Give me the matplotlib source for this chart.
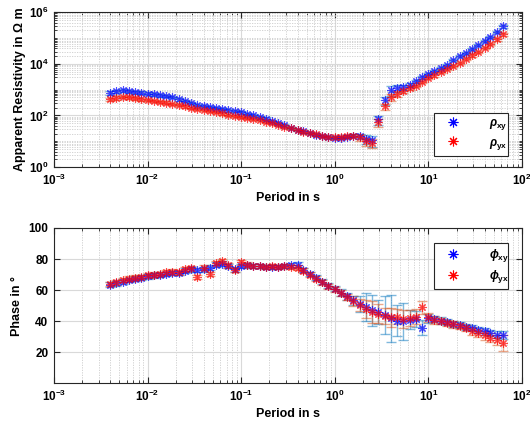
import numpy as np
import matplotlib
matplotlib.use("Agg")
import matplotlib.pyplot as plt
from matplotlib.ticker import LogLocator, FixedLocator, NullFormatter, LogFormatterSciNotation
from matplotlib.lines import Line2D

plt.rcParams['font.family'] = ['Liberation Sans', 'DejaVu Sans']
plt.rcParams['font.weight'] = 'bold'
plt.rcParams['mathtext.fontset'] = 'custom'
plt.rcParams['mathtext.rm'] = 'Liberation Sans:bold'
plt.rcParams['mathtext.bf'] = 'Liberation Sans:bold'
plt.rcParams['mathtext.it'] = 'Liberation Sans:italic'
plt.rcParams['mathtext.default'] = 'bf'

# ---------------- data ----------------
period = [0.0040, 0.0046, 0.0054, 0.0063, 0.0073, 0.0085, 0.0100, 0.0116, 0.0135, 0.0158,
          0.0184, 0.0215, 0.025, 0.029, 0.034, 0.040, 0.046, 0.054, 0.063, 0.073,
          0.085, 0.100, 0.116, 0.135, 0.158, 0.184, 0.215, 0.25, 0.29, 0.34,
          0.40, 0.46, 0.54, 0.63, 0.73, 0.85, 1.00, 1.16, 1.35, 1.58,
          1.84, 2.15, 2.5, 2.9, 3.4, 4.0, 4.6, 5.4, 6.3, 7.3,
          8.5, 10.0, 11.6, 13.5, 15.8, 18.4, 21.5, 25, 29, 34,
          40, 46, 54, 63]

rho_xy = [759, 891, 933, 851, 794, 759, 708, 661, 603, 562,
          525, 417, 355, 302, 263, 240, 214, 191, 174, 158,
          145, 132, 117, 105, 89, 76, 60, 50, 42, 33,
          27.5, 24, 21, 18.2, 15.8, 14.1, 13.2, 13.8, 15.1, 16.6,
          15.8, 12.6, 11.2, 71, 398, 1000, 1122, 1259, 1585, 2089,
          3020, 3981, 5248, 7079, 9333, 14125, 19953, 26303, 38019, 52481,
          79433, 112202, 177828, 281838]

rho_yx = [417, 479, 525, 501, 457, 417, 398, 363, 331, 316,
          282, 251, 224, 200, 182, 166, 151, 135, 120, 107,
          95, 87, 79, 72, 66, 58, 50, 44, 37, 32,
          27, 23.4, 20.9, 18.6, 16.6, 15.1, 14.5, 14.8, 15.8, 16.6,
          14.1, 10.0, 8.9, 56, 224, 501, 708, 891, 1122, 1413,
          1995, 2818, 3548, 4786, 6310, 8318, 11220, 15849, 21380, 29512,
          41687, 60256, 89125, 141254]

rho_xy_relerr = [0.15, 0.14, 0.13, 0.13, 0.12, 0.12, 0.12, 0.11, 0.11, 0.11,
                 0.11, 0.10, 0.10, 0.10, 0.10, 0.10, 0.10, 0.10, 0.10, 0.10,
                 0.10, 0.10, 0.10, 0.10, 0.10, 0.10, 0.10, 0.10, 0.10, 0.10,
                 0.10, 0.10, 0.10, 0.10, 0.10, 0.10, 0.10, 0.10, 0.12, 0.15,
                 0.25, 0.35, 0.45, 0.40, 0.35, 0.45, 0.30, 0.20, 0.15, 0.12,
                 0.12, 0.10, 0.10, 0.10, 0.10, 0.10, 0.10, 0.10, 0.10, 0.10,
                 0.10, 0.10, 0.10, 0.10]

rho_yx_relerr = [0.15, 0.14, 0.13, 0.13, 0.12, 0.12, 0.12, 0.11, 0.11, 0.11,
                 0.11, 0.10, 0.10, 0.10, 0.10, 0.10, 0.10, 0.10, 0.10, 0.10,
                 0.10, 0.10, 0.10, 0.10, 0.10, 0.10, 0.10, 0.10, 0.10, 0.10,
                 0.10, 0.10, 0.10, 0.10, 0.10, 0.10, 0.10, 0.10, 0.12, 0.15,
                 0.25, 0.35, 0.40, 0.35, 0.30, 0.30, 0.25, 0.18, 0.15, 0.12,
                 0.12, 0.10, 0.10, 0.10, 0.10, 0.10, 0.10, 0.10, 0.10, 0.10,
                 0.10, 0.10, 0.12, 0.15]

phi_xy = [63.5, 64.5, 65.5, 66.5, 67.5, 68.0, 69.0, 69.5, 70.0, 70.5,
          71.0, 71.0, 72.5, 73.5, 73.0, 73.5, 74.5, 76.5, 77.0, 75.5,
          73.5, 75.5, 76.0, 75.5, 75.5, 75.0, 75.0, 75.0, 75.5, 76.0,
          76.5, 73.0, 70.5, 68.0, 65.5, 63.0, 61.0, 58.5, 56.0, 53.5,
          51.0, 49.0, 47.0, 46.0, 44.0, 42.0, 40.5, 40.0, 41.0, 41.5,
          36.0, 42.0, 41.5, 40.5, 39.5, 38.5, 37.5, 36.5, 35.5, 34.5,
          33.5, 32.5, 31.5, 31.0]

phi_yx = [64.0, 65.0, 66.5, 67.5, 68.0, 68.5, 69.5, 70.0, 70.5, 71.5,
          72.0, 71.5, 73.5, 74.0, 68.5, 74.5, 70.5, 77.5, 78.5, 76.0,
          73.0, 78.0, 76.5, 75.5, 75.5, 75.0, 75.5, 75.0, 75.5, 75.0,
          74.5, 72.5, 70.0, 67.5, 65.0, 62.5, 60.5, 58.0, 55.5, 53.0,
          50.5, 48.0, 46.0, 45.0, 43.5, 42.5, 43.0, 41.5, 42.0, 43.0,
          49.0, 42.5, 41.0, 40.0, 39.0, 38.0, 37.0, 35.5, 34.0, 32.5,
          31.0, 29.5, 28.0, 26.0]

phi_xy_err = [1.5, 1.5, 1.5, 1.5, 1.5, 1.5, 1.5, 1.5, 1.5, 1.5,
              1.5, 1.5, 1.5, 1.5, 1.5, 1.5, 1.5, 1.5, 1.5, 1.5,
              1.5, 1.5, 1.5, 1.5, 1.5, 1.5, 1.5, 1.5, 1.5, 1.5,
              1.5, 1.5, 1.5, 1.5, 1.5, 1.5, 1.5, 2.0, 2.0, 3.0,
              5.0, 9.0, 10.0, 8.0, 12.0, 15.0, 10.0, 12.0, 6.0, 5.0,
              5.0, 3.0, 2.0, 2.0, 2.0, 2.0, 2.0, 2.0, 2.0, 2.0,
              2.0, 2.0, 2.5, 2.5]

phi_yx_err = [1.5, 1.5, 1.5, 1.5, 1.5, 1.5, 1.5, 1.5, 1.5, 1.5,
              1.5, 1.5, 1.5, 1.5, 1.5, 1.5, 1.5, 1.5, 1.5, 1.5,
              1.5, 1.5, 1.5, 1.5, 1.5, 1.5, 1.5, 1.5, 1.5, 1.5,
              1.5, 1.5, 1.5, 1.5, 1.5, 1.5, 1.5, 2.0, 2.0, 3.0,
              4.0, 6.0, 7.0, 6.0, 5.0, 6.0, 5.0, 6.0, 5.0, 5.0,
              4.0, 3.0, 2.5, 2.0, 2.0, 2.0, 2.0, 2.0, 2.5, 2.5,
              3.0, 3.0, 3.5, 5.0]

# ---------------- style ----------------
C_EB_BLUE = (0.0, 0.447, 0.741)
C_EB_RED = (0.85, 0.325, 0.098)
C_M_BLUE = (0.0, 0.0, 1.0)
C_M_RED = (1.0, 0.0, 0.0)
STAR = (8, 2, 0)

fig = plt.figure(figsize=(5.30, 4.23), dpi=100)
ax1 = fig.add_axes([0.1019, 0.605, 0.883, 0.366])
ax2 = fig.add_axes([0.1019, 0.0934, 0.883, 0.3676])

T = np.array(period)


def style_axes(ax):
    ax.set_xscale('log')
    ax.set_xlim(1e-3, 1e2)
    ax.xaxis.set_major_locator(FixedLocator([1e-3, 1e-2, 1e-1, 1e0, 1e1, 1e2]))
    ax.xaxis.set_minor_locator(LogLocator(base=10, subs=np.arange(2, 10), numticks=20))
    ax.xaxis.set_minor_formatter(NullFormatter())
    ax.xaxis.set_major_formatter(LogFormatterSciNotation())
    ax.tick_params(which='both', direction='in', top=True, right=True, color='0.15')
    ax.tick_params(which='major', length=4, labelsize=8.5, pad=4)
    ax.tick_params(which='minor', length=2)
    for s in ax.spines.values():
        s.set_color('0.15')
        s.set_linewidth(0.8)
    ax.grid(True, which='major', color='0.85', linewidth=0.8, linestyle='-')
    ax.grid(True, which='minor', color='0.8', linewidth=0.6, linestyle=(0, (1.5, 1.5)))
    ax.set_axisbelow(True)
    ax.set_xlabel('Period in s', fontsize=9, fontweight='bold', labelpad=3)
    for lab in ax.get_xticklabels() + ax.get_yticklabels():
        lab.set_fontweight('bold')


def draw_series(ax, y, yerr, ecol, mcol, z):
    ax.errorbar(T, y, yerr=yerr, fmt='none', ecolor=ecol, alpha=0.5,
                elinewidth=1.0, capsize=3.5, capthick=1.0, zorder=2)
    ax.plot(T, y, linestyle='none', marker=STAR, markersize=6, markeredgewidth=0.8,
            color=mcol, alpha=0.7, zorder=z)


def add_legend(ax, labels, top):
    hs = [Line2D([], [], linestyle='none', marker=STAR, markersize=7, markeredgewidth=0.8, color=C_M_BLUE),
          Line2D([], [], linestyle='none', marker=STAR, markersize=7, markeredgewidth=0.8, color=C_M_RED)]
    leg = ax.legend(hs, labels, loc='upper left', bbox_to_anchor=(0.812, top, 0.158, 0.0),
                    mode='expand', fancybox=False, edgecolor='0.15', framealpha=1,
                    fontsize=8.5, handletextpad=1.8, labelspacing=0.35, borderpad=0.35,
                    borderaxespad=0.0, handlelength=2.5)
    leg.get_frame().set_linewidth(0.8)
    return leg


# ----- resistivity -----
rxy = np.array(rho_xy)
ryx = np.array(rho_yx)
draw_series(ax1, rxy, rxy * np.array(rho_xy_relerr), C_EB_BLUE, C_M_BLUE, 3)
draw_series(ax1, ryx, ryx * np.array(rho_yx_relerr), C_EB_RED, C_M_RED, 4)
ax1.set_yscale('log')
ax1.set_ylim(1e0, 1e6)
ax1.yaxis.set_major_locator(FixedLocator([1e0, 1e2, 1e4, 1e6]))
ax1.yaxis.set_minor_locator(LogLocator(base=10, subs=np.arange(1, 10), numticks=20))
ax1.yaxis.set_minor_formatter(NullFormatter())
ax1.yaxis.set_major_formatter(LogFormatterSciNotation())
style_axes(ax1)
ax1.set_ylabel('Apparent Resistivity in Ω m', fontsize=9, fontweight='bold', labelpad=2)
add_legend(ax1, [r'$\mathit{\rho}_{\mathbf{xy}}$', r'$\mathit{\rho}_{\mathbf{yx}}$'], 0.348)

# ----- phase -----
draw_series(ax2, np.array(phi_xy), phi_xy_err, C_EB_BLUE, C_M_BLUE, 3)
draw_series(ax2, np.array(phi_yx), phi_yx_err, C_EB_RED, C_M_RED, 4)
ax2.set_ylim(0, 100)
ax2.set_yticks([20, 40, 60, 80, 100])
style_axes(ax2)
ax2.grid(False, which='minor', axis='y')
ax2.set_ylabel('Phase in °', fontsize=9, fontweight='bold', labelpad=4)
add_legend(ax2, [r'$\mathit{\phi}_{\mathbf{xy}}$', r'$\mathit{\phi}_{\mathbf{yx}}$'], 0.9035)

fig.savefig('out.png', dpi=100)
